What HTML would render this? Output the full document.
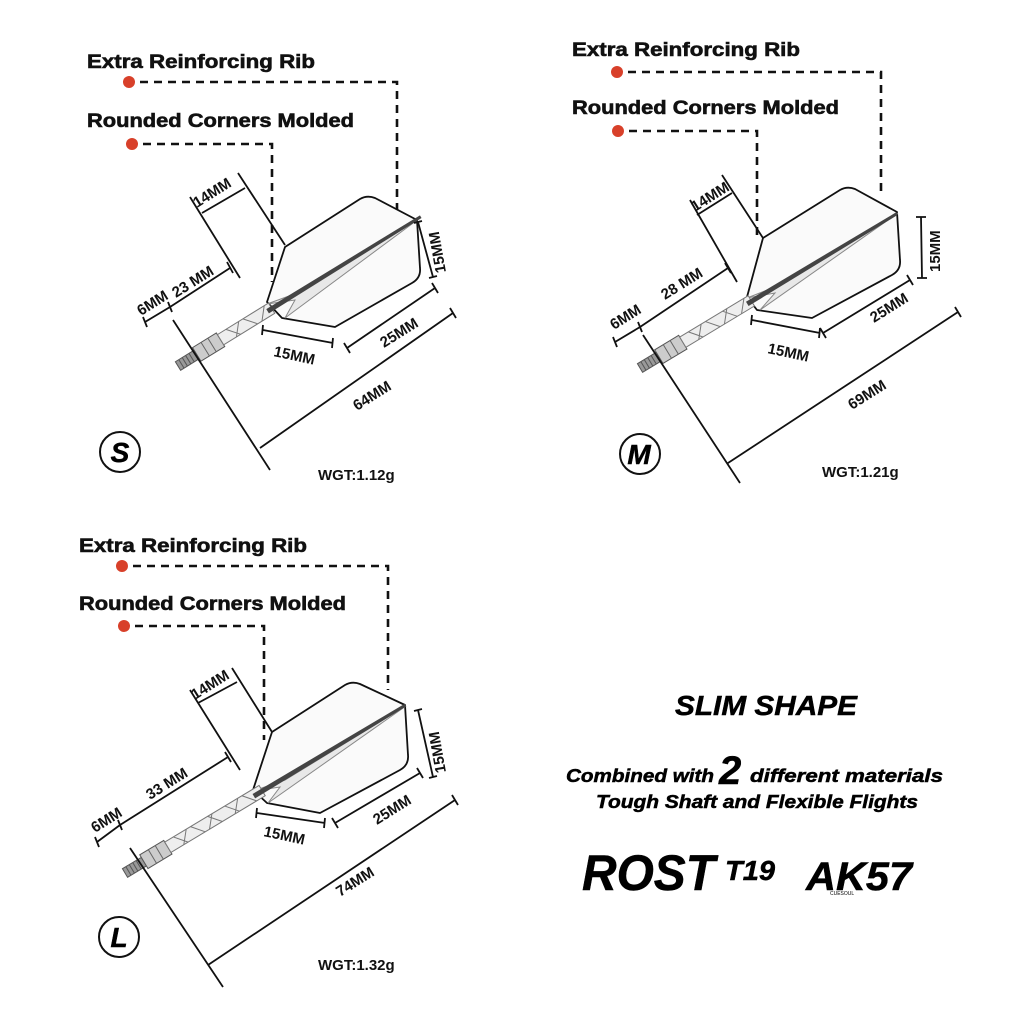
<!DOCTYPE html>
<html><head><meta charset="utf-8"><style>
html,body{margin:0;padding:0;background:#fff;}
svg{display:block;}
.lbl{font-family:"Liberation Sans",sans-serif;font-weight:bold;font-size:19px;fill:#111;stroke:#111;stroke-width:0.6;}
.dim{font-family:"Liberation Sans",sans-serif;font-weight:bold;font-size:15px;fill:#111;}
.ln{stroke:#111;stroke-width:1.8;fill:none;}
.dash{stroke:#111;stroke-width:2.6;fill:none;stroke-dasharray:8 6;}
.fl{fill:#fafafa;stroke:#111;stroke-width:1.8;stroke-linejoin:round;}
.it{font-family:"Liberation Sans",sans-serif;font-weight:bold;font-style:italic;fill:#000;stroke:#000;stroke-width:0.5;}
</style></head><body>
<svg width="1024" height="1024" viewBox="0 0 1024 1024" xmlns="http://www.w3.org/2000/svg">
<defs>
<g id="dartshaft">
  <rect x="0" y="-5" width="22" height="10" fill="#999" stroke="#555" stroke-width="1"/>
  <path d="M4,-5V5M8,-5V5M12,-5V5M16,-5V5" stroke="#555" stroke-width="1"/>
  <rect x="22" y="-8" width="28" height="16" fill="#ccc" stroke="#555" stroke-width="1"/>
  <path d="M32,-8V8M40,-8V8" stroke="#666" stroke-width="1"/>
</g>
</defs>

<!-- ================= S ================= -->
<text class="lbl" x="87" y="68" textLength="228" lengthAdjust="spacingAndGlyphs">Extra Reinforcing Rib</text>
<text class="lbl" x="87" y="127" textLength="267" lengthAdjust="spacingAndGlyphs">Rounded Corners Molded</text>
<circle cx="129" cy="82" r="6" fill="#d8402a"/>
<circle cx="132" cy="144" r="6" fill="#d8402a"/>
<path class="dash" d="M140,82H397V212"/>
<path class="dash" d="M143,144H272V282"/>
<path class="fl" d="M285,247 L360,199 Q367,195 375,198 L417,220 L420,268 Q421,278 412,283 L335,327 L282,318 L267,302 Z"/>
<path d="M420,218 L300,292 L267,304 L295,300 L285,318 Z" fill="#e8e8e8" stroke="#888" stroke-width="1"/>
<g transform="translate(178,366) rotate(-31.7)">
  <use href="#dartshaft"/>
  <rect x="50" y="-6" width="60" height="12" fill="#eee" stroke="#777" stroke-width="1"/>
  <path d="M60,-6 L70,6 M80,-6 L90,6 M65,6 L75,-6 M95,6 L105,-6" stroke="#777" stroke-width="1"/>
  <path d="M105,-2 L285,-1 L285,2 L105,3Z" fill="#444"/>
</g>
<path class="ln" d="M190,197L240,278M238,173L285,245M202,213L245,188"/>
<path class="ln" d="M170,307L230,268M227,262L233,273"/>
<path class="ln" d="M145,322L170,307M143,317L147,327M168,302L172,312"/>
<path class="ln" d="M173,320L270,470M260,448L453,313M450,308L456,318"/>
<path class="ln" d="M263,330L333,343M263,325L262,335M333,338L332,348"/>
<path class="ln" d="M347,348L435,288M344,343L350,353M432,283L438,293"/>
<path class="ln" d="M418,222L433,277M414,223L422,221M429,278L437,276"/>
<text class="dim" transform="translate(197,208) rotate(-32)">14MM</text>
<text class="dim" transform="translate(176,298) rotate(-32)">23 MM</text>
<text class="dim" transform="translate(141,316) rotate(-32)">6MM</text>
<text class="dim" transform="translate(273,356) rotate(12)">15MM</text>
<text class="dim" transform="translate(384,348) rotate(-32)">25MM</text>
<text class="dim" transform="translate(446,272) rotate(-100)">15MM</text>
<text class="dim" transform="translate(357,411) rotate(-32)">64MM</text>
<circle cx="120" cy="452" r="20" fill="none" stroke="#111" stroke-width="2"/>
<text class="it" x="120" y="462" font-size="28" text-anchor="middle">S</text>
<text class="dim" x="318" y="480" font-size="15">WGT:1.12g</text>

<!-- ================= M ================= -->
<text class="lbl" x="572" y="56" textLength="228" lengthAdjust="spacingAndGlyphs">Extra Reinforcing Rib</text>
<text class="lbl" x="572" y="114" textLength="267" lengthAdjust="spacingAndGlyphs">Rounded Corners Molded</text>
<circle cx="617" cy="72" r="6" fill="#d8402a"/>
<circle cx="618" cy="131" r="6" fill="#d8402a"/>
<path class="dash" d="M628,72H881V195"/>
<path class="dash" d="M629,131H757V240"/>
<path class="fl" d="M763,238 L840,190 Q847,186 855,189 L897,212 L900,260 Q901,270 892,275 L812,318 L757,310 L747,297 Z"/>
<path d="M898,213 L780,285 L747,298 L775,293 L760,310 Z" fill="#e8e8e8" stroke="#888" stroke-width="1"/>
<g transform="translate(640,368) rotate(-31.1)">
  <use href="#dartshaft"/>
  <rect x="50" y="-6" width="80" height="12" fill="#eee" stroke="#777" stroke-width="1"/>
  <path d="M60,-6 L70,6 M80,-6 L90,6 M100,-6 L110,6 M65,6 L75,-6 M95,6 L105,-6 M115,6 L125,-6" stroke="#777" stroke-width="1"/>
  <path d="M125,-2 L300,-1 L300,2 L125,3Z" fill="#444"/>
</g>
<path class="ln" d="M690,200L737,282M722,175L763,238M697,215L732,193"/>
<path class="ln" d="M640,327L728,268M725,263L731,273"/>
<path class="ln" d="M615,342L640,327M613,337L617,347M638,322L642,332"/>
<path class="ln" d="M643,335L740,483M728,463L958,312M955,307L961,317"/>
<path class="ln" d="M752,320L820,333M752,315L751,325M820,328L819,338"/>
<path class="ln" d="M823,333L910,280M820,328L826,338M907,275L913,285"/>
<path class="ln" d="M921,217L922,278M916,217L926,217M917,278L927,278"/>
<text class="dim" transform="translate(695,212) rotate(-32)">14MM</text>
<text class="dim" transform="translate(665,300) rotate(-32)">28 MM</text>
<text class="dim" transform="translate(614,330) rotate(-32)">6MM</text>
<text class="dim" transform="translate(767,353) rotate(12)">15MM</text>
<text class="dim" transform="translate(874,323) rotate(-32)">25MM</text>
<text class="dim" transform="translate(940,272) rotate(-90)">15MM</text>
<text class="dim" transform="translate(852,410) rotate(-32)">69MM</text>
<circle cx="640" cy="454" r="20" fill="none" stroke="#111" stroke-width="2"/>
<text class="it" x="639" y="464" font-size="28" text-anchor="middle">M</text>
<text class="dim" x="822" y="477" font-size="15">WGT:1.21g</text>

<!-- ================= L ================= -->
<text class="lbl" x="79" y="552" textLength="228" lengthAdjust="spacingAndGlyphs">Extra Reinforcing Rib</text>
<text class="lbl" x="79" y="610" textLength="267" lengthAdjust="spacingAndGlyphs">Rounded Corners Molded</text>
<circle cx="122" cy="566" r="6" fill="#d8402a"/>
<circle cx="124" cy="626" r="6" fill="#d8402a"/>
<path class="dash" d="M133,566H388V690"/>
<path class="dash" d="M135,626H264V740"/>
<path class="fl" d="M272,732 L345,685 Q352,681 360,684 L405,705 L408,755 Q409,765 400,770 L320,813 L267,803 L253,790 Z"/>
<path d="M406,706 L285,780 L253,791 L280,787 L268,803 Z" fill="#e8e8e8" stroke="#888" stroke-width="1"/>
<g transform="translate(125,873) rotate(-31)">
  <use href="#dartshaft"/>
  <rect x="50" y="-6" width="110" height="12" fill="#eee" stroke="#777" stroke-width="1"/>
  <path d="M60,-6 L70,6 M80,-6 L90,6 M100,-6 L110,6 M120,-6 L130,6 M140,-6 L150,6 M65,6 L75,-6 M95,6 L105,-6 M125,6 L135,-6" stroke="#777" stroke-width="1"/>
  <path d="M150,-2 L327,-1 L327,2 L150,3Z" fill="#444"/>
</g>
<path class="ln" d="M190,690L240,770M232,668L272,732M198,703L237,682"/>
<path class="ln" d="M120,825L228,757M225,752L231,762"/>
<path class="ln" d="M97,842L120,825M95,837L99,847M118,820L122,830"/>
<path class="ln" d="M130,848L223,987M208,965L455,800M452,795L458,805"/>
<path class="ln" d="M257,813L325,823M257,808L256,818M325,818L324,828"/>
<path class="ln" d="M335,823L420,773M332,818L338,828M417,768L423,778"/>
<path class="ln" d="M418,710L433,777M414,711L422,709M429,778L437,776"/>
<text class="dim" transform="translate(195,700) rotate(-32)">14MM</text>
<text class="dim" transform="translate(150,800) rotate(-32)">33 MM</text>
<text class="dim" transform="translate(95,833) rotate(-32)">6MM</text>
<text class="dim" transform="translate(263,836) rotate(12)">15MM</text>
<text class="dim" transform="translate(377,825) rotate(-32)">25MM</text>
<text class="dim" transform="translate(446,772) rotate(-100)">15MM</text>
<text class="dim" transform="translate(340,897) rotate(-32)">74MM</text>
<circle cx="119" cy="937" r="20" fill="none" stroke="#111" stroke-width="2"/>
<text class="it" x="119" y="947" font-size="28" text-anchor="middle">L</text>
<text class="dim" x="318" y="970" font-size="15">WGT:1.32g</text>

<!-- ================= Right text ================= -->
<text class="it" x="675" y="715" font-size="28" textLength="182" lengthAdjust="spacingAndGlyphs">SLIM SHAPE</text>
<text class="it" x="566" y="782" font-size="18" textLength="148" lengthAdjust="spacingAndGlyphs">Combined with</text>
<text class="it" x="719" y="784" font-size="40">2</text>
<text class="it" x="750" y="782" font-size="18" textLength="193" lengthAdjust="spacingAndGlyphs">different materials</text>
<text class="it" x="596" y="808" font-size="18" textLength="322" lengthAdjust="spacingAndGlyphs">Tough Shaft and Flexible Flights</text>
<text class="it" x="582" y="890" font-size="50" textLength="133" lengthAdjust="spacingAndGlyphs">ROST</text>
<text class="it" x="725" y="880" font-size="28" textLength="50" lengthAdjust="spacingAndGlyphs">T19</text>
<text class="it" x="806" y="890" font-size="40" textLength="106" lengthAdjust="spacingAndGlyphs">AK57</text>
<text font-family="Liberation Sans,sans-serif" font-size="5" x="830" y="895" fill="#000">CUESOUL</text>
</svg>
</body></html>
